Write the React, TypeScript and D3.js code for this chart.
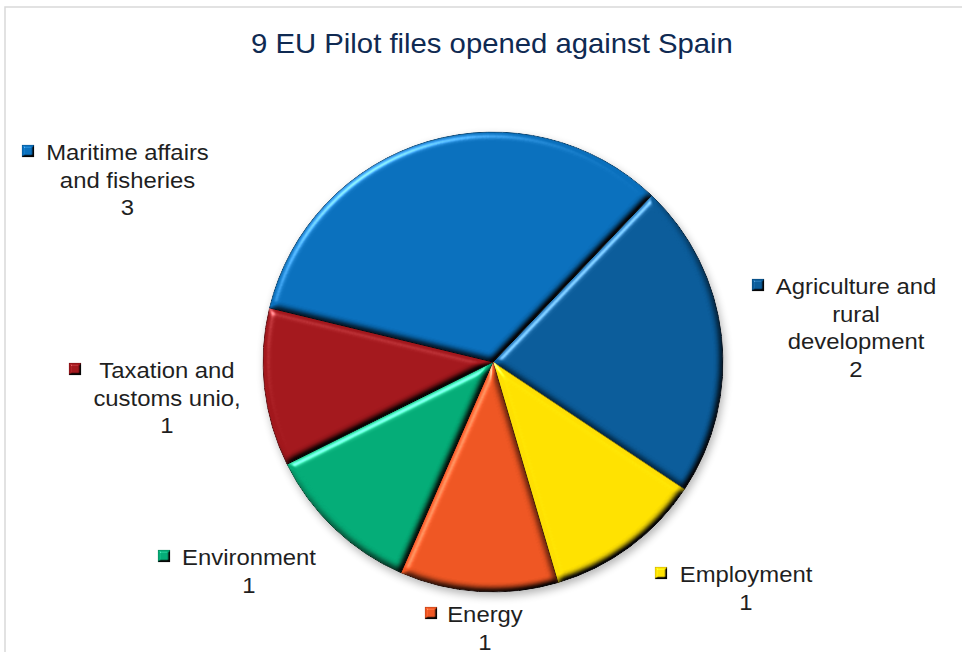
import React from "react";
import * as d3 from "d3";

const categories = [
  "Agriculture and rural development",
  "Employment",
  "Energy",
  "Environment",
  "Taxation and customs unio,",
  "Maritime affairs and fisheries",
];
const values = [2, 1, 1, 1, 1, 3];
const colors = ["#0B5C9A", "#FFE100", "#EE5623", "#04AC77", "#A3181D", "#0A70BD"];
const labelLines = [
  ["Agriculture and", "rural", "development", "2"],
  ["Employment", "1"],
  ["Energy", "1"],
  ["Environment", "1"],
  ["Taxation and", "customs unio,", "1"],
  ["Maritime affairs", "and fisheries", "3"],
];
const title = "9 EU Pilot files opened against Spain";

// layout (label anchor: center x, first baseline y, marker x)
const labelLayout = [
  { cx: 856, y: 294, mx: 752 },
  { cx: 746, y: 582, mx: 655 },
  { cx: 485, y: 622, mx: 425 },
  { cx: 249, y: 565, mx: 158 },
  { cx: 167, y: 378, mx: 69 },
  { cx: 127.5, y: 160, mx: 22 },
];

const W = 962;
const H = 652;
const CX = 493;
const CY = 362;
const R = 230;
const START = (43.6 * Math.PI) / 180;
const LH = 27.5;
const SX = 1.085;

function BevelFilter({ id, blur, scale }: { id: string; blur: number; scale: number }) {
  return (
    <filter id={id} x="-10%" y="-10%" width="120%" height="120%" colorInterpolationFilters="sRGB">
      <feGaussianBlur in="SourceAlpha" stdDeviation={blur} result="blur" />
      <feDiffuseLighting in="blur" surfaceScale={scale} diffuseConstant={1.556} lightingColor="#ffffff" result="diff">
        <feDistantLight azimuth={235} elevation={40} />
      </feDiffuseLighting>
      <feComposite in="SourceGraphic" in2="diff" operator="arithmetic" k1={1} k2={0} k3={0} k4={0} result="shaded" />
      <feSpecularLighting
        in="blur"
        surfaceScale={scale}
        specularConstant={0.9}
        specularExponent={30}
        lightingColor="#ffffff"
        result="spec"
      >
        <feDistantLight azimuth={235} elevation={40} />
      </feSpecularLighting>
      <feComposite in="spec" in2="SourceAlpha" operator="in" result="specIn" />
      <feComposite in="shaded" in2="specIn" operator="arithmetic" k1={0} k2={1} k3={0.6} k4={-0.025} result="lit" />
      <feComposite in="lit" in2="SourceAlpha" operator="in" />
    </filter>
  );
}

export default function App() {
  const pie = d3
    .pie<number>()
    .sort(null)
    .value((d) => d)
    .startAngle(START)
    .endAngle(START + 2 * Math.PI);
  const arcs = pie(values);
  const arc = d3.arc<d3.PieArcDatum<number>>().innerRadius(0).outerRadius(R);

  return (
    <svg
      width={W}
      height={H}
      style={{ position: "absolute", left: 0, top: 0, background: "#fff" }}
      fontFamily="'Liberation Sans', Arial, sans-serif"
    >
      <defs>
        <BevelFilter id="bevel" blur={3.5} scale={4} />
        <BevelFilter id="mbevel" blur={1.2} scale={3} />
        <filter id="shadow" x="-20%" y="-20%" width="140%" height="140%" colorInterpolationFilters="sRGB">
          <feGaussianBlur in="SourceAlpha" stdDeviation="4" />
          <feOffset dx="2" dy="4" result="o" />
          <feComponentTransfer>
            <feFuncA type="linear" slope="0.3" />
          </feComponentTransfer>
          <feMerge>
            <feMergeNode />
            <feMergeNode in="SourceGraphic" />
          </feMerge>
        </filter>
      </defs>
      <rect x={5} y={7} width={W + 10} height={H + 10} fill="#fff" stroke="#D9D9D9" strokeWidth={1.5} />
      <text
        transform={`translate(${CX - 1},${53}) scale(${SX},1)`}
        textAnchor="middle"
        fontSize={27}
        fill="#0F2A52"
      >
        {title}
      </text>
      <g transform={`translate(${CX},${CY})`} filter="url(#shadow)">
        {arcs.map((a, i) => (
          <path
            key={categories[i]}
            d={arc(a) || ""}
            fill={colors[i]}
            stroke={d3.color(colors[i])!.darker(1.5).formatHex()}
            strokeWidth={1}
            filter="url(#bevel)"
          />
        ))}
      </g>
      {labelLayout.map((p, i) => (
        <g key={categories[i]}>
          <rect
            x={p.mx}
            y={p.y - 15}
            width={12}
            height={12}
            fill={colors[i]}
            stroke={d3.color(colors[i])!.darker(1).formatHex()}
            strokeWidth={0.6}
            filter="url(#mbevel)"
          />
          {labelLines[i].map((line, j) => (
            <text
              key={j}
              transform={`translate(${p.cx},${p.y + j * LH}) scale(${SX},1)`}
              textAnchor="middle"
              fontSize={22}
              fill="#1F1F1F"
            >
              {line}
            </text>
          ))}
        </g>
      ))}
    </svg>
  );
}
